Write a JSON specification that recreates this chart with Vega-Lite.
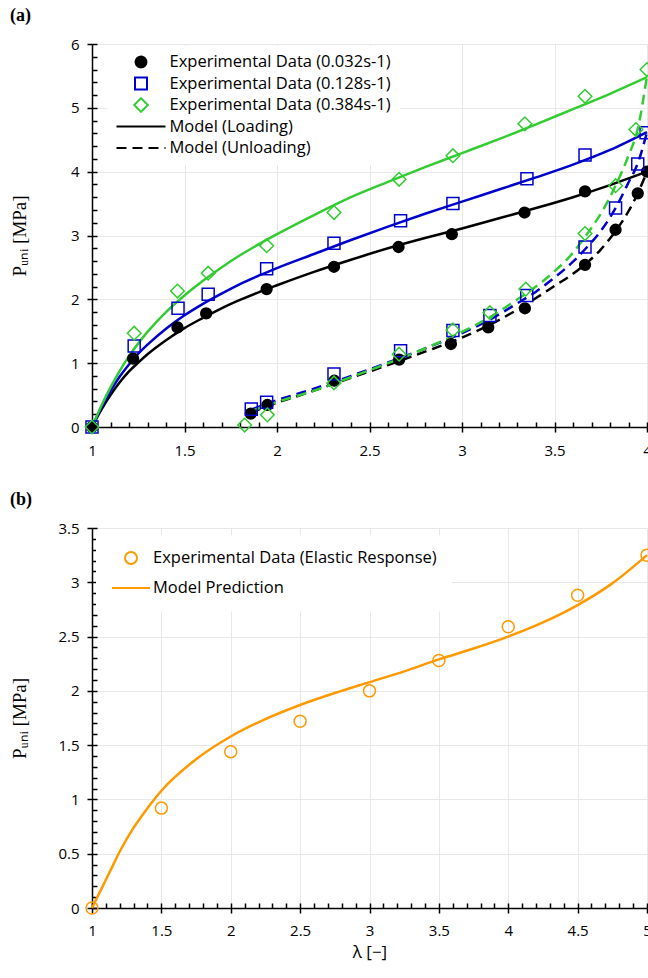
{
  "$schema": "https://vega.github.io/schema/vega-lite/v6.json",
  "background": "white",
  "padding": {"left": 10, "top": 7, "right": 0, "bottom": 10},
  "spacing": 33,
  "resolve": {
    "scale": {"stroke": "independent", "shape": "independent", "fill": "independent"}
  },
  "config": {
    "view": {"stroke": null},
    "font": "Open Sans",
    "axis": {
      "domainColor": "black", "domainWidth": 1.5,
      "tickColor": "black", "tickWidth": 1.5,
      "gridColor": "#e8e8e8", "gridWidth": 1,
      "labelFont": "Open Sans", "labelFontSize": 15, "labelColor": "black",
      "labelFlush": false, "labelOverlap": false,
      "titleColor": "black", "titleFontWeight": "normal"
    },
    "legend": {
      "title": null, "orient": "none", "fillColor": "white", "symbolStrokeWidth": 2, "symbolOffset": 0,
      "labelFont": "Open Sans", "labelFontSize": 16.5, "labelColor": "black", "labelLimit": 400
    },
    "title": {"font": "Liberation Serif", "fontSize": 18, "fontWeight": "bold", "color": "black", "anchor": "start", "frame": "bounds", "offset": 12}
  },
  "datasets": {
    "ptsA": [
      {"x": 1, "y": 0, "s": "Experimental Data (0.032s-1)"},
      {"x": 1.222, "y": 1.07, "s": "Experimental Data (0.032s-1)"},
      {"x": 1.462, "y": 1.56, "s": "Experimental Data (0.032s-1)"},
      {"x": 1.617, "y": 1.78, "s": "Experimental Data (0.032s-1)"},
      {"x": 1.944, "y": 2.16, "s": "Experimental Data (0.032s-1)"},
      {"x": 2.308, "y": 2.51, "s": "Experimental Data (0.032s-1)"},
      {"x": 2.657, "y": 2.82, "s": "Experimental Data (0.032s-1)"},
      {"x": 2.945, "y": 3.02, "s": "Experimental Data (0.032s-1)"},
      {"x": 3.338, "y": 3.36, "s": "Experimental Data (0.032s-1)"},
      {"x": 3.665, "y": 3.69, "s": "Experimental Data (0.032s-1)"},
      {"x": 4.0, "y": 4.0, "s": "Experimental Data (0.032s-1)"},
      {"x": 3.95, "y": 3.66, "s": "Experimental Data (0.032s-1)"},
      {"x": 3.83, "y": 3.09, "s": "Experimental Data (0.032s-1)"},
      {"x": 3.665, "y": 2.54, "s": "Experimental Data (0.032s-1)"},
      {"x": 3.34, "y": 1.86, "s": "Experimental Data (0.032s-1)"},
      {"x": 3.142, "y": 1.56, "s": "Experimental Data (0.032s-1)"},
      {"x": 2.94, "y": 1.3, "s": "Experimental Data (0.032s-1)"},
      {"x": 2.66, "y": 1.055, "s": "Experimental Data (0.032s-1)"},
      {"x": 2.31, "y": 0.725, "s": "Experimental Data (0.032s-1)"},
      {"x": 1.948, "y": 0.345, "s": "Experimental Data (0.032s-1)"},
      {"x": 1.858, "y": 0.21, "s": "Experimental Data (0.032s-1)"},
      {"x": 1, "y": 0, "s": "Experimental Data (0.128s-1)"},
      {"x": 1.228, "y": 1.27, "s": "Experimental Data (0.128s-1)"},
      {"x": 1.465, "y": 1.86, "s": "Experimental Data (0.128s-1)"},
      {"x": 1.628, "y": 2.08, "s": "Experimental Data (0.128s-1)"},
      {"x": 1.944, "y": 2.48, "s": "Experimental Data (0.128s-1)"},
      {"x": 2.308, "y": 2.88, "s": "Experimental Data (0.128s-1)"},
      {"x": 2.668, "y": 3.23, "s": "Experimental Data (0.128s-1)"},
      {"x": 2.951, "y": 3.5, "s": "Experimental Data (0.128s-1)"},
      {"x": 3.351, "y": 3.89, "s": "Experimental Data (0.128s-1)"},
      {"x": 3.665, "y": 4.26, "s": "Experimental Data (0.128s-1)"},
      {"x": 3.995, "y": 4.61, "s": "Experimental Data (0.128s-1)"},
      {"x": 3.95, "y": 4.12, "s": "Experimental Data (0.128s-1)"},
      {"x": 3.83, "y": 3.43, "s": "Experimental Data (0.128s-1)"},
      {"x": 3.665, "y": 2.82, "s": "Experimental Data (0.128s-1)"},
      {"x": 3.35, "y": 2.06, "s": "Experimental Data (0.128s-1)"},
      {"x": 3.151, "y": 1.745, "s": "Experimental Data (0.128s-1)"},
      {"x": 2.951, "y": 1.51, "s": "Experimental Data (0.128s-1)"},
      {"x": 2.668, "y": 1.195, "s": "Experimental Data (0.128s-1)"},
      {"x": 2.308, "y": 0.83, "s": "Experimental Data (0.128s-1)"},
      {"x": 1.944, "y": 0.386, "s": "Experimental Data (0.128s-1)"},
      {"x": 1.861, "y": 0.28, "s": "Experimental Data (0.128s-1)"},
      {"x": 1, "y": 0, "s": "Experimental Data (0.384s-1)"},
      {"x": 1.228, "y": 1.47, "s": "Experimental Data (0.384s-1)"},
      {"x": 1.462, "y": 2.13, "s": "Experimental Data (0.384s-1)"},
      {"x": 1.628, "y": 2.41, "s": "Experimental Data (0.384s-1)"},
      {"x": 1.944, "y": 2.84, "s": "Experimental Data (0.384s-1)"},
      {"x": 2.308, "y": 3.36, "s": "Experimental Data (0.384s-1)"},
      {"x": 2.66, "y": 3.88, "s": "Experimental Data (0.384s-1)"},
      {"x": 2.951, "y": 4.25, "s": "Experimental Data (0.384s-1)"},
      {"x": 3.34, "y": 4.75, "s": "Experimental Data (0.384s-1)"},
      {"x": 3.665, "y": 5.18, "s": "Experimental Data (0.384s-1)"},
      {"x": 4.0, "y": 5.6, "s": "Experimental Data (0.384s-1)"},
      {"x": 3.94, "y": 4.66, "s": "Experimental Data (0.384s-1)"},
      {"x": 3.83, "y": 3.78, "s": "Experimental Data (0.384s-1)"},
      {"x": 3.665, "y": 3.03, "s": "Experimental Data (0.384s-1)"},
      {"x": 3.345, "y": 2.16, "s": "Experimental Data (0.384s-1)"},
      {"x": 3.151, "y": 1.79, "s": "Experimental Data (0.384s-1)"},
      {"x": 2.951, "y": 1.52, "s": "Experimental Data (0.384s-1)"},
      {"x": 2.66, "y": 1.14, "s": "Experimental Data (0.384s-1)"},
      {"x": 2.308, "y": 0.69, "s": "Experimental Data (0.384s-1)"},
      {"x": 1.948, "y": 0.19, "s": "Experimental Data (0.384s-1)"},
      {"x": 1.825, "y": 0.03, "s": "Experimental Data (0.384s-1)"}
    ],
    "loadA": [
      {"x": 1, "y": 0, "s": "Experimental Data (0.032s-1)"},
      {"x": 1.05, "y": 0.27, "s": "Experimental Data (0.032s-1)"},
      {"x": 1.1, "y": 0.5, "s": "Experimental Data (0.032s-1)"},
      {"x": 1.15, "y": 0.7, "s": "Experimental Data (0.032s-1)"},
      {"x": 1.2, "y": 0.87, "s": "Experimental Data (0.032s-1)"},
      {"x": 1.25, "y": 1.01, "s": "Experimental Data (0.032s-1)"},
      {"x": 1.3, "y": 1.14, "s": "Experimental Data (0.032s-1)"},
      {"x": 1.4, "y": 1.36, "s": "Experimental Data (0.032s-1)"},
      {"x": 1.5, "y": 1.55, "s": "Experimental Data (0.032s-1)"},
      {"x": 1.6, "y": 1.71, "s": "Experimental Data (0.032s-1)"},
      {"x": 1.7, "y": 1.86, "s": "Experimental Data (0.032s-1)"},
      {"x": 1.8, "y": 1.99, "s": "Experimental Data (0.032s-1)"},
      {"x": 1.9, "y": 2.11, "s": "Experimental Data (0.032s-1)"},
      {"x": 2.0, "y": 2.22, "s": "Experimental Data (0.032s-1)"},
      {"x": 2.2, "y": 2.43, "s": "Experimental Data (0.032s-1)"},
      {"x": 2.4, "y": 2.62, "s": "Experimental Data (0.032s-1)"},
      {"x": 2.6, "y": 2.8, "s": "Experimental Data (0.032s-1)"},
      {"x": 2.8, "y": 2.96, "s": "Experimental Data (0.032s-1)"},
      {"x": 3.0, "y": 3.11, "s": "Experimental Data (0.032s-1)"},
      {"x": 3.2, "y": 3.27, "s": "Experimental Data (0.032s-1)"},
      {"x": 3.4, "y": 3.43, "s": "Experimental Data (0.032s-1)"},
      {"x": 3.6, "y": 3.6, "s": "Experimental Data (0.032s-1)"},
      {"x": 3.8, "y": 3.79, "s": "Experimental Data (0.032s-1)"},
      {"x": 4.0, "y": 4.0, "s": "Experimental Data (0.032s-1)"},
      {"x": 1, "y": 0, "s": "Experimental Data (0.128s-1)"},
      {"x": 1.05, "y": 0.3, "s": "Experimental Data (0.128s-1)"},
      {"x": 1.1, "y": 0.56, "s": "Experimental Data (0.128s-1)"},
      {"x": 1.15, "y": 0.79, "s": "Experimental Data (0.128s-1)"},
      {"x": 1.2, "y": 0.98, "s": "Experimental Data (0.128s-1)"},
      {"x": 1.25, "y": 1.15, "s": "Experimental Data (0.128s-1)"},
      {"x": 1.3, "y": 1.29, "s": "Experimental Data (0.128s-1)"},
      {"x": 1.4, "y": 1.54, "s": "Experimental Data (0.128s-1)"},
      {"x": 1.5, "y": 1.75, "s": "Experimental Data (0.128s-1)"},
      {"x": 1.6, "y": 1.93, "s": "Experimental Data (0.128s-1)"},
      {"x": 1.7, "y": 2.09, "s": "Experimental Data (0.128s-1)"},
      {"x": 1.8, "y": 2.24, "s": "Experimental Data (0.128s-1)"},
      {"x": 1.9, "y": 2.37, "s": "Experimental Data (0.128s-1)"},
      {"x": 2.0, "y": 2.49, "s": "Experimental Data (0.128s-1)"},
      {"x": 2.2, "y": 2.71, "s": "Experimental Data (0.128s-1)"},
      {"x": 2.4, "y": 2.93, "s": "Experimental Data (0.128s-1)"},
      {"x": 2.6, "y": 3.14, "s": "Experimental Data (0.128s-1)"},
      {"x": 2.8, "y": 3.34, "s": "Experimental Data (0.128s-1)"},
      {"x": 3.0, "y": 3.53, "s": "Experimental Data (0.128s-1)"},
      {"x": 3.2, "y": 3.72, "s": "Experimental Data (0.128s-1)"},
      {"x": 3.4, "y": 3.91, "s": "Experimental Data (0.128s-1)"},
      {"x": 3.6, "y": 4.11, "s": "Experimental Data (0.128s-1)"},
      {"x": 3.8, "y": 4.34, "s": "Experimental Data (0.128s-1)"},
      {"x": 4.0, "y": 4.62, "s": "Experimental Data (0.128s-1)"},
      {"x": 1, "y": 0, "s": "Experimental Data (0.384s-1)"},
      {"x": 1.05, "y": 0.33, "s": "Experimental Data (0.384s-1)"},
      {"x": 1.1, "y": 0.62, "s": "Experimental Data (0.384s-1)"},
      {"x": 1.15, "y": 0.88, "s": "Experimental Data (0.384s-1)"},
      {"x": 1.2, "y": 1.11, "s": "Experimental Data (0.384s-1)"},
      {"x": 1.25, "y": 1.31, "s": "Experimental Data (0.384s-1)"},
      {"x": 1.3, "y": 1.49, "s": "Experimental Data (0.384s-1)"},
      {"x": 1.4, "y": 1.8, "s": "Experimental Data (0.384s-1)"},
      {"x": 1.5, "y": 2.06, "s": "Experimental Data (0.384s-1)"},
      {"x": 1.6, "y": 2.29, "s": "Experimental Data (0.384s-1)"},
      {"x": 1.7, "y": 2.5, "s": "Experimental Data (0.384s-1)"},
      {"x": 1.8, "y": 2.69, "s": "Experimental Data (0.384s-1)"},
      {"x": 1.9, "y": 2.86, "s": "Experimental Data (0.384s-1)"},
      {"x": 2.0, "y": 3.02, "s": "Experimental Data (0.384s-1)"},
      {"x": 2.2, "y": 3.32, "s": "Experimental Data (0.384s-1)"},
      {"x": 2.4, "y": 3.6, "s": "Experimental Data (0.384s-1)"},
      {"x": 2.6, "y": 3.84, "s": "Experimental Data (0.384s-1)"},
      {"x": 2.8, "y": 4.07, "s": "Experimental Data (0.384s-1)"},
      {"x": 3.0, "y": 4.29, "s": "Experimental Data (0.384s-1)"},
      {"x": 3.2, "y": 4.51, "s": "Experimental Data (0.384s-1)"},
      {"x": 3.4, "y": 4.74, "s": "Experimental Data (0.384s-1)"},
      {"x": 3.6, "y": 4.98, "s": "Experimental Data (0.384s-1)"},
      {"x": 3.8, "y": 5.22, "s": "Experimental Data (0.384s-1)"},
      {"x": 4.0, "y": 5.48, "s": "Experimental Data (0.384s-1)"}
    ],
    "unlA": [
      {"x": 1.86, "y": 0.22, "s": "Experimental Data (0.032s-1)"},
      {"x": 1.95, "y": 0.33, "s": "Experimental Data (0.032s-1)"},
      {"x": 2.0, "y": 0.38, "s": "Experimental Data (0.032s-1)"},
      {"x": 2.2, "y": 0.57, "s": "Experimental Data (0.032s-1)"},
      {"x": 2.4, "y": 0.77, "s": "Experimental Data (0.032s-1)"},
      {"x": 2.6, "y": 0.97, "s": "Experimental Data (0.032s-1)"},
      {"x": 2.8, "y": 1.18, "s": "Experimental Data (0.032s-1)"},
      {"x": 3.0, "y": 1.4, "s": "Experimental Data (0.032s-1)"},
      {"x": 3.15, "y": 1.6, "s": "Experimental Data (0.032s-1)"},
      {"x": 3.3, "y": 1.84, "s": "Experimental Data (0.032s-1)"},
      {"x": 3.4, "y": 2.02, "s": "Experimental Data (0.032s-1)"},
      {"x": 3.5, "y": 2.21, "s": "Experimental Data (0.032s-1)"},
      {"x": 3.6, "y": 2.4, "s": "Experimental Data (0.032s-1)"},
      {"x": 3.67, "y": 2.56, "s": "Experimental Data (0.032s-1)"},
      {"x": 3.75, "y": 2.78, "s": "Experimental Data (0.032s-1)"},
      {"x": 3.83, "y": 3.07, "s": "Experimental Data (0.032s-1)"},
      {"x": 3.9, "y": 3.38, "s": "Experimental Data (0.032s-1)"},
      {"x": 3.95, "y": 3.66, "s": "Experimental Data (0.032s-1)"},
      {"x": 4.0, "y": 4.0, "s": "Experimental Data (0.032s-1)"},
      {"x": 1.86, "y": 0.27, "s": "Experimental Data (0.128s-1)"},
      {"x": 1.95, "y": 0.37, "s": "Experimental Data (0.128s-1)"},
      {"x": 2.0, "y": 0.42, "s": "Experimental Data (0.128s-1)"},
      {"x": 2.2, "y": 0.6, "s": "Experimental Data (0.128s-1)"},
      {"x": 2.4, "y": 0.8, "s": "Experimental Data (0.128s-1)"},
      {"x": 2.6, "y": 1.01, "s": "Experimental Data (0.128s-1)"},
      {"x": 2.8, "y": 1.23, "s": "Experimental Data (0.128s-1)"},
      {"x": 3.0, "y": 1.47, "s": "Experimental Data (0.128s-1)"},
      {"x": 3.15, "y": 1.68, "s": "Experimental Data (0.128s-1)"},
      {"x": 3.3, "y": 1.94, "s": "Experimental Data (0.128s-1)"},
      {"x": 3.4, "y": 2.12, "s": "Experimental Data (0.128s-1)"},
      {"x": 3.5, "y": 2.34, "s": "Experimental Data (0.128s-1)"},
      {"x": 3.6, "y": 2.59, "s": "Experimental Data (0.128s-1)"},
      {"x": 3.67, "y": 2.8, "s": "Experimental Data (0.128s-1)"},
      {"x": 3.75, "y": 3.07, "s": "Experimental Data (0.128s-1)"},
      {"x": 3.83, "y": 3.43, "s": "Experimental Data (0.128s-1)"},
      {"x": 3.9, "y": 3.83, "s": "Experimental Data (0.128s-1)"},
      {"x": 3.95, "y": 4.13, "s": "Experimental Data (0.128s-1)"},
      {"x": 4.0, "y": 4.62, "s": "Experimental Data (0.128s-1)"},
      {"x": 1.86, "y": 0.25, "s": "Experimental Data (0.384s-1)"},
      {"x": 1.95, "y": 0.34, "s": "Experimental Data (0.384s-1)"},
      {"x": 2.0, "y": 0.39, "s": "Experimental Data (0.384s-1)"},
      {"x": 2.2, "y": 0.57, "s": "Experimental Data (0.384s-1)"},
      {"x": 2.4, "y": 0.78, "s": "Experimental Data (0.384s-1)"},
      {"x": 2.6, "y": 1.0, "s": "Experimental Data (0.384s-1)"},
      {"x": 2.8, "y": 1.23, "s": "Experimental Data (0.384s-1)"},
      {"x": 3.0, "y": 1.49, "s": "Experimental Data (0.384s-1)"},
      {"x": 3.15, "y": 1.72, "s": "Experimental Data (0.384s-1)"},
      {"x": 3.3, "y": 2.0, "s": "Experimental Data (0.384s-1)"},
      {"x": 3.4, "y": 2.2, "s": "Experimental Data (0.384s-1)"},
      {"x": 3.5, "y": 2.44, "s": "Experimental Data (0.384s-1)"},
      {"x": 3.6, "y": 2.73, "s": "Experimental Data (0.384s-1)"},
      {"x": 3.67, "y": 3.0, "s": "Experimental Data (0.384s-1)"},
      {"x": 3.75, "y": 3.34, "s": "Experimental Data (0.384s-1)"},
      {"x": 3.83, "y": 3.78, "s": "Experimental Data (0.384s-1)"},
      {"x": 3.9, "y": 4.25, "s": "Experimental Data (0.384s-1)"},
      {"x": 3.95, "y": 4.67, "s": "Experimental Data (0.384s-1)"},
      {"x": 4.0, "y": 5.5, "s": "Experimental Data (0.384s-1)"}
    ],
    "ptsB": [
      {"x": 1, "y": 0, "s": "Experimental Data (Elastic Response)"},
      {"x": 1.5, "y": 0.92, "s": "Experimental Data (Elastic Response)"},
      {"x": 2, "y": 1.44, "s": "Experimental Data (Elastic Response)"},
      {"x": 2.5, "y": 1.72, "s": "Experimental Data (Elastic Response)"},
      {"x": 3, "y": 2.0, "s": "Experimental Data (Elastic Response)"},
      {"x": 3.5, "y": 2.28, "s": "Experimental Data (Elastic Response)"},
      {"x": 4, "y": 2.59, "s": "Experimental Data (Elastic Response)"},
      {"x": 4.5, "y": 2.88, "s": "Experimental Data (Elastic Response)"},
      {"x": 5, "y": 3.25, "s": "Experimental Data (Elastic Response)"}
    ],
    "lineB": [
      {"x": 1, "y": 0, "s": "Model Prediction"},
      {"x": 1.05, "y": 0.13, "s": "Model Prediction"},
      {"x": 1.1, "y": 0.26, "s": "Model Prediction"},
      {"x": 1.15, "y": 0.39, "s": "Model Prediction"},
      {"x": 1.2, "y": 0.52, "s": "Model Prediction"},
      {"x": 1.3, "y": 0.74, "s": "Model Prediction"},
      {"x": 1.4, "y": 0.92, "s": "Model Prediction"},
      {"x": 1.5, "y": 1.08, "s": "Model Prediction"},
      {"x": 1.75, "y": 1.37, "s": "Model Prediction"},
      {"x": 2.0, "y": 1.58, "s": "Model Prediction"},
      {"x": 2.25, "y": 1.74, "s": "Model Prediction"},
      {"x": 2.5, "y": 1.87, "s": "Model Prediction"},
      {"x": 2.75, "y": 1.98, "s": "Model Prediction"},
      {"x": 3.0, "y": 2.08, "s": "Model Prediction"},
      {"x": 3.25, "y": 2.18, "s": "Model Prediction"},
      {"x": 3.5, "y": 2.29, "s": "Model Prediction"},
      {"x": 3.75, "y": 2.39, "s": "Model Prediction"},
      {"x": 4.0, "y": 2.5, "s": "Model Prediction"},
      {"x": 4.25, "y": 2.63, "s": "Model Prediction"},
      {"x": 4.5, "y": 2.79, "s": "Model Prediction"},
      {"x": 4.75, "y": 2.99, "s": "Model Prediction"},
      {"x": 5.0, "y": 3.25, "s": "Model Prediction"}
    ]
  },
  "vconcat": [
    {
      "width": 555,
      "height": 383,
      "title": {"text": "(a)"},
      "resolve": {"axis": {"x": "independent", "y": "independent"}},
      "layer": [
        {
          "data": {"name": "loadA"},
          "mark": {"type": "line", "interpolate": "monotone", "strokeWidth": 2.5},
          "encoding": {
            "x": {"field": "x", "type": "quantitative", "scale": {"domain": [1, 4], "nice": false, "zero": false},
                  "axis": {"orient": "bottom", "values": [1, 1.5, 2, 2.5, 3, 3.5, 4], "format": "~g", "grid": true, "tickSize": 5, "labelPadding": 11, "title": null}},
            "y": {"field": "y", "type": "quantitative", "scale": {"domain": [0, 6], "nice": false},
                  "axis": {"orient": "left", "values": [0, 1, 2, 3, 4, 5, 6], "format": "~g", "grid": true, "tickSize": 5, "labelPadding": 8,
                           "title": "Pᵤₙᵢ [MPa]", "titleFont": "Liberation Serif", "titleFontSize": 19, "titleX": -73, "titleY": 191.5, "titleBaseline": "middle"}},
            "stroke": {"field": "s", "type": "nominal",
                       "scale": {"domain": ["Experimental Data (0.032s-1)", "Experimental Data (0.128s-1)", "Experimental Data (0.384s-1)", "Model (Loading)", "Model (Unloading)"],
                                 "range": ["#000000", "#0000cc", "#33cc33", "#000000", "#000000"]},
                       "legend": {"legendX": 15.5, "legendY": 2, "padding": 8, "symbolSize": 2401, "labelOffset": 3, "rowPadding": 4.5, "clipHeight": 16,
                                  "encode": {"symbols": {"update": {"strokeDash": {"signal": "datum.value === 'Model (Unloading)' ? [10, 6] : [1, 0]"}}}}}}
          }
        },
        {
          "data": {"name": "unlA"},
          "mark": {"type": "line", "interpolate": "monotone", "strokeWidth": 2.5, "strokeDash": [10, 6]},
          "encoding": {
            "x": {"field": "x", "type": "quantitative",
                  "axis": {"orient": "bottom", "values": [1, 1.1, 1.2, 1.3, 1.4, 1.5, 1.6, 1.7, 1.8, 1.9, 2, 2.1, 2.2, 2.3, 2.4, 2.5, 2.6, 2.7, 2.8, 2.9, 3, 3.1, 3.2, 3.3, 3.4, 3.5, 3.6, 3.7, 3.8, 3.9, 4], "tickSize": -5, "labels": false, "domain": false, "grid": false, "title": null}},
            "y": {"field": "y", "type": "quantitative",
                  "axis": {"orient": "left", "values": [0, 0.2, 0.4, 0.6, 0.8, 1, 1.2, 1.4, 1.6, 1.8, 2, 2.2, 2.4, 2.6, 2.8, 3, 3.2, 3.4, 3.6, 3.8, 4, 4.2, 4.4, 4.6, 4.8, 5, 5.2, 5.4, 5.6, 5.8, 6], "tickSize": -5, "labels": false, "domain": false, "grid": false, "title": null}},
            "stroke": {"field": "s", "type": "nominal",
                       "scale": {"domain": ["Experimental Data (0.032s-1)", "Experimental Data (0.128s-1)", "Experimental Data (0.384s-1)", "Model (Loading)", "Model (Unloading)"],
                                 "range": ["#000000", "#0000cc", "#33cc33", "#000000", "#000000"]},
                       "legend": {"legendX": 15.5, "legendY": 2, "padding": 8, "symbolSize": 2401, "labelOffset": 3, "rowPadding": 4.5, "clipHeight": 16,
                                  "encode": {"symbols": {"update": {"strokeDash": {"signal": "datum.value === 'Model (Unloading)' ? [10, 6] : [1, 0]"}}}}}}
          }
        },
        {
          "data": {"name": "ptsA"},
          "mark": {"type": "point", "size": 2401, "strokeWidth": 1.5, "opacity": 1},
          "encoding": {
            "x": {"field": "x", "type": "quantitative", "axis": null},
            "y": {"field": "y", "type": "quantitative", "axis": null},
            "stroke": {"field": "s", "type": "nominal",
                       "scale": {"domain": ["Experimental Data (0.032s-1)", "Experimental Data (0.128s-1)", "Experimental Data (0.384s-1)", "Model (Loading)", "Model (Unloading)"],
                                 "range": ["#000000", "#0000cc", "#33cc33", "#000000", "#000000"]},
                       "legend": {"legendX": 15.5, "legendY": 2, "padding": 8, "symbolSize": 2401, "labelOffset": 3, "rowPadding": 4.5, "clipHeight": 16,
                                  "encode": {"symbols": {"update": {"strokeDash": {"signal": "datum.value === 'Model (Unloading)' ? [10, 6] : [1, 0]"}}}}}},
            "shape": {"field": "s", "type": "nominal",
                      "scale": {"domain": ["Experimental Data (0.032s-1)", "Experimental Data (0.128s-1)", "Experimental Data (0.384s-1)", "Model (Loading)", "Model (Unloading)"],
                                "range": ["M-0.22,0A0.22,0.22,0,1,0,0.22,0A0.22,0.22,0,1,0,-0.22,0Z", "M-0.245,-0.245H0.245V0.245H-0.245Z", "M0,-0.278L0.278,0L0,0.278L-0.278,0Z", "M-1,0H1", "M-1,0H1"]},
                      "legend": {"legendX": 15.5, "legendY": 2, "padding": 8, "symbolSize": 2401, "labelOffset": 3, "rowPadding": 4.5, "clipHeight": 16,
                                 "encode": {"symbols": {"update": {"strokeDash": {"signal": "datum.value === 'Model (Unloading)' ? [10, 6] : [1, 0]"}}}}}},
            "fill": {"field": "s", "type": "nominal",
                     "scale": {"domain": ["Experimental Data (0.032s-1)", "Experimental Data (0.128s-1)", "Experimental Data (0.384s-1)", "Model (Loading)", "Model (Unloading)"],
                               "range": ["#000000", "transparent", "transparent", "transparent", "transparent"]},
                     "legend": {"legendX": 15.5, "legendY": 2, "padding": 8, "symbolSize": 2401, "labelOffset": 3, "rowPadding": 4.5, "clipHeight": 16,
                                "encode": {"symbols": {"update": {"strokeDash": {"signal": "datum.value === 'Model (Unloading)' ? [10, 6] : [1, 0]"}}}}}}
          }
        }
      ]
    },
    {
      "width": 555,
      "height": 380,
      "title": {"text": "(b)"},
      "resolve": {"axis": {"x": "independent", "y": "independent"}},
      "layer": [
        {
          "data": {"name": "lineB"},
          "mark": {"type": "line", "interpolate": "monotone", "strokeWidth": 2.5},
          "encoding": {
            "x": {"field": "x", "type": "quantitative", "scale": {"domain": [1, 5], "nice": false, "zero": false},
                  "axis": {"orient": "bottom", "values": [1, 1.5, 2, 2.5, 3, 3.5, 4, 4.5, 5], "format": "~g", "grid": true, "tickSize": 5, "labelPadding": 10,
                           "title": "λ [−]", "titleFont": "Open Sans", "titleFontSize": 17, "titlePadding": 6}},
            "y": {"field": "y", "type": "quantitative", "scale": {"domain": [0, 3.5], "nice": false},
                  "axis": {"orient": "left", "values": [0, 0.5, 1, 1.5, 2, 2.5, 3, 3.5], "format": "~g", "grid": true, "tickSize": 5, "labelPadding": 8,
                           "title": "Pᵤₙᵢ [MPa]", "titleFont": "Liberation Serif", "titleFontSize": 19, "titleX": -73, "titleY": 190, "titleBaseline": "middle"}},
            "stroke": {"field": "s", "type": "nominal",
                       "scale": {"domain": ["Experimental Data (Elastic Response)", "Model Prediction"], "range": ["#ff9900", "#ff9900"]},
                       "legend": {"legendX": 4, "legendY": 7.5, "padding": 15, "symbolSize": 1444, "labelOffset": 2, "rowPadding": 13, "clipHeight": 15}}
          }
        },
        {
          "data": {"name": "ptsB"},
          "mark": {"type": "point", "size": 1444, "strokeWidth": 1.5, "opacity": 1},
          "encoding": {
            "x": {"field": "x", "type": "quantitative",
                  "axis": {"orient": "bottom", "values": [1, 1.1, 1.2, 1.3, 1.4, 1.5, 1.6, 1.7, 1.8, 1.9, 2, 2.1, 2.2, 2.3, 2.4, 2.5, 2.6, 2.7, 2.8, 2.9, 3, 3.1, 3.2, 3.3, 3.4, 3.5, 3.6, 3.7, 3.8, 3.9, 4, 4.1, 4.2, 4.3, 4.4, 4.5, 4.6, 4.7, 4.8, 4.9, 5], "tickSize": -5, "labels": false, "domain": false, "grid": false, "title": null}},
            "y": {"field": "y", "type": "quantitative",
                  "axis": {"orient": "left", "values": [0, 0.1, 0.2, 0.3, 0.4, 0.5, 0.6, 0.7, 0.8, 0.9, 1, 1.1, 1.2, 1.3, 1.4, 1.5, 1.6, 1.7, 1.8, 1.9, 2, 2.1, 2.2, 2.3, 2.4, 2.5, 2.6, 2.7, 2.8, 2.9, 3, 3.1, 3.2, 3.3, 3.4, 3.5], "tickSize": -5, "labels": false, "domain": false, "grid": false, "title": null}},
            "stroke": {"field": "s", "type": "nominal",
                       "scale": {"domain": ["Experimental Data (Elastic Response)", "Model Prediction"], "range": ["#ff9900", "#ff9900"]},
                       "legend": {"legendX": 4, "legendY": 7.5, "padding": 15, "symbolSize": 1444, "labelOffset": 2, "rowPadding": 13, "clipHeight": 15}},
            "shape": {"field": "s", "type": "nominal",
                      "scale": {"domain": ["Experimental Data (Elastic Response)", "Model Prediction"],
                                "range": ["M-0.316,0A0.316,0.316,0,1,0,0.316,0A0.316,0.316,0,1,0,-0.316,0Z", "M-1,0H1"]},
                      "legend": {"legendX": 4, "legendY": 7.5, "padding": 15, "symbolSize": 1444, "labelOffset": 2, "rowPadding": 13, "clipHeight": 15}}
          }
        }
      ]
    }
  ]
}
